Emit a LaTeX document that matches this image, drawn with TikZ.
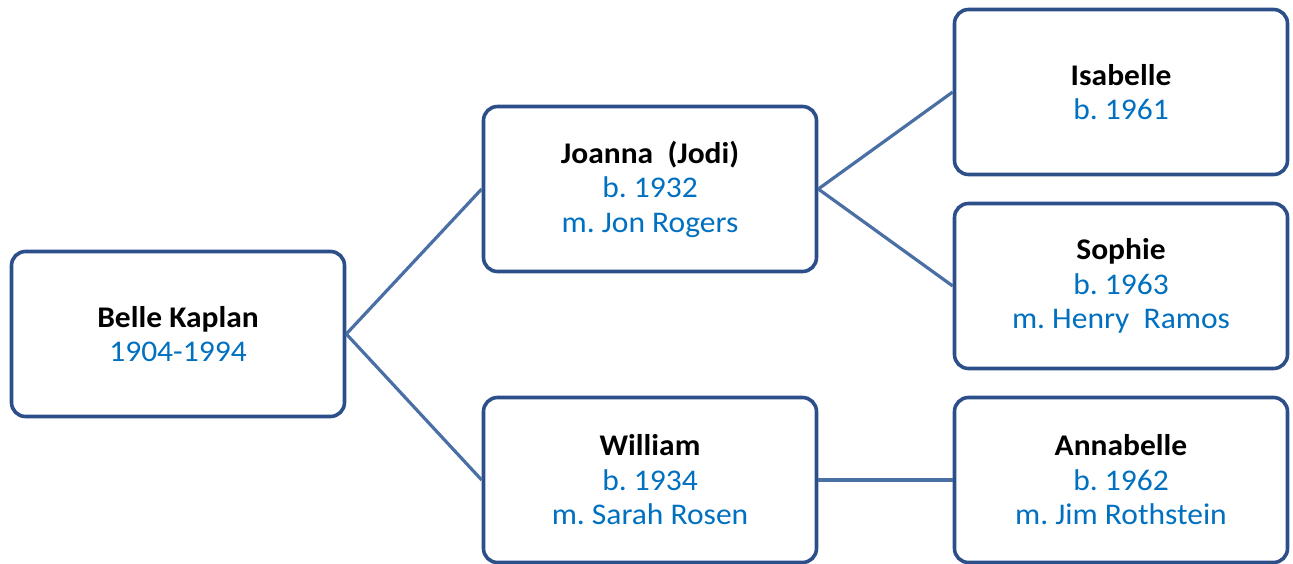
\documentclass[tikz,border=0pt]{standalone}
\usepackage{fontspec}
\setmainfont[FakeStretch=1.05]{Carlito}
\definecolor{boxborder}{HTML}{2C4F8A}
\definecolor{linkcol}{HTML}{4A6FA5}
\definecolor{subblue}{HTML}{0070C0}
\frenchspacing
\begin{document}
\begin{tikzpicture}[x=1pt,y=-1pt,
  person/.style={draw=boxborder, line width=3.6pt, rounded corners=14pt, fill=white,
    minimum width=333pt, minimum height=165pt, inner sep=0pt, align=center,
    font=\fontsize{30}{34.5}\selectfont},
  link/.style={draw=linkcol, line width=3.2pt}]
\useasboundingbox (0,0) rectangle (1293,564);
\node[person] (belle) at (178,334) {\textbf{Belle Kaplan}\\\textcolor{subblue}{1904-1994}};
\node[person] (joanna) at (650,189) {\textbf{Joanna\ \ (Jodi)}\\\textcolor{subblue}{b. 1932}\\\textcolor{subblue}{m. Jon Rogers}};
\node[person] (william) at (650,480) {\textbf{William}\\\textcolor{subblue}{b. 1934}\\\textcolor{subblue}{m. Sarah Rosen}};
\node[person] (isabelle) at (1121,92) {\textbf{Isabelle}\\\textcolor{subblue}{b. 1961}};
\node[person] (sophie) at (1121,286) {\textbf{Sophie}\\\textcolor{subblue}{b. 1963}\\\textcolor{subblue}{m. Henry\ \ Ramos}};
\node[person] (annabelle) at (1121,480) {\textbf{Annabelle}\\\textcolor{subblue}{b. 1962}\\\textcolor{subblue}{m. Jim Rothstein}};
\draw[link] (belle.east) -- (joanna.west);
\draw[link] (belle.east) -- (william.west);
\draw[link] (joanna.east) -- (isabelle.west);
\draw[link] (joanna.east) -- (sophie.west);
\draw[link] (william.east) -- (annabelle.west);
\end{tikzpicture}
\end{document}
